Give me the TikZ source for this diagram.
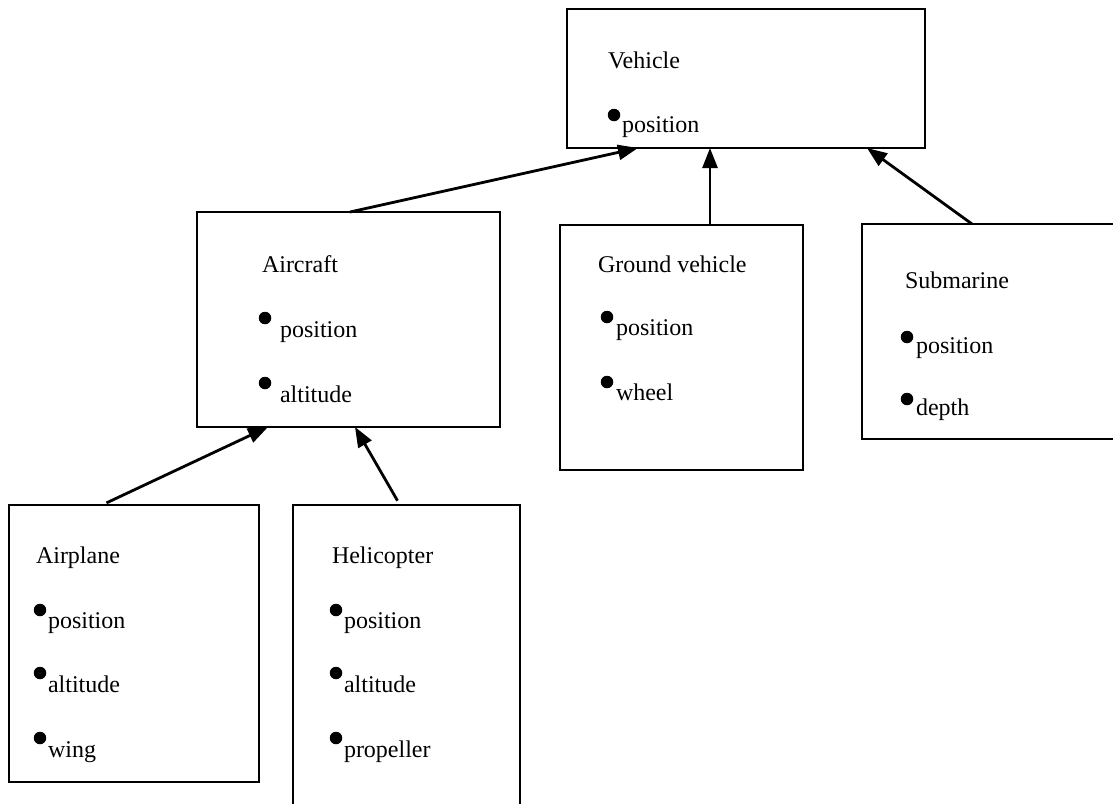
\documentclass[tikz,border=0pt]{standalone}
\usepackage{fontspec}
\setmainfont{Liberation Serif}
\usetikzlibrary{arrows.meta}
\begin{document}
\begin{tikzpicture}[x=1pt,y=-1pt,
  box/.style={draw=black,line width=2.8pt,rectangle,inner sep=0pt,outer sep=0pt,fill=none},
  arr/.style={draw=black,line width=2.8pt,-{Triangle[length=20pt,width=15pt]}},
  lbl/.style={anchor=base west,inner sep=0pt,outer sep=0pt,font=\fontsize{24}{28}\selectfont},
  bul/.style={circle,fill=black,inner sep=0pt,minimum size=12.5pt}
]
\useasboundingbox (0,0) rectangle (1113,803);
\clip (0,0) rectangle (1113,803);
\fill[white] (0,0) rectangle (1113,803);

% boxes
\node[box,minimum width=358pt,minimum height=139pt] (vehicle) at (746,78.5) {};
\node[box,minimum width=303pt,minimum height=215pt] (aircraft) at (348.5,319.5) {};
\node[box,minimum width=243pt,minimum height=245pt] (ground) at (681.5,347.5) {};
\node[box,minimum width=263pt,minimum height=215pt] (sub) at (993.5,331.5) {};
\node[box,minimum width=250pt,minimum height=277pt] (airplane) at (134,643.5) {};
\node[box,minimum width=227pt,minimum height=325pt] (heli) at (406.5,667.5) {};

% Vehicle
\node[lbl] (tveh) at (608,68) {Vehicle};
\node[bul] (bveh1) at (614,115) {};
\node[lbl] (tveh1) at (622,132) {position};

% Aircraft
\node[lbl] (tair) at (262,272) {Aircraft};
\node[bul] (bair1) at (265,318) {};
\node[lbl] (tair1) at (280,337) {position};
\node[bul] (bair2) at (265,383) {};
\node[lbl] (tair2) at (280,402) {altitude};

% Ground vehicle
\node[lbl] (tgr) at (598,272) {Ground vehicle};
\node[bul] (bgr1) at (607,317) {};
\node[lbl] (tgr1) at (616,335) {position};
\node[bul] (bgr2) at (607,382) {};
\node[lbl] (tgr2) at (616,400) {wheel};

% Submarine
\node[lbl] (tsub) at (905,288) {Submarine};
\node[bul] (bsub1) at (907,337) {};
\node[lbl] (tsub1) at (916,353) {position};
\node[bul] (bsub2) at (907,399) {};
\node[lbl] (tsub2) at (916,415) {depth};

% Airplane
\node[lbl] (tapl) at (36,563) {Airplane};
\node[bul] (bapl1) at (40,610) {};
\node[lbl] (tapl1) at (48,628) {position};
\node[bul] (bapl2) at (40,673) {};
\node[lbl] (tapl2) at (48,692) {altitude};
\node[bul] (bapl3) at (40,738) {};
\node[lbl] (tapl3) at (48,757) {wing};

% Helicopter
\node[lbl] (thel) at (332,563) {Helicopter};
\node[bul] (bhel1) at (336,610) {};
\node[lbl] (thel1) at (344,628) {position};
\node[bul] (bhel2) at (336,673) {};
\node[lbl] (thel2) at (344,692) {altitude};
\node[bul] (bhel3) at (336,738) {};
\node[lbl] (thel3) at (344,757) {propeller};

% connectors
\draw[arr] ([xshift=153pt]aircraft.north west) -- ([xshift=71pt]vehicle.south west);
\draw[arr] ([xshift=150pt]ground.north west) -- ([xshift=143pt]vehicle.south west);
\draw[arr] ([xshift=110pt]sub.north west) -- ([xshift=300pt]vehicle.south west);
\draw[arr,shorten <=5pt] ([xshift=93pt]airplane.north west) -- ([xshift=71pt]aircraft.south west);
\draw[arr,shorten <=5pt] ([xshift=107pt]heli.north west) -- ([xshift=158pt]aircraft.south west);
\end{tikzpicture}
\end{document}
